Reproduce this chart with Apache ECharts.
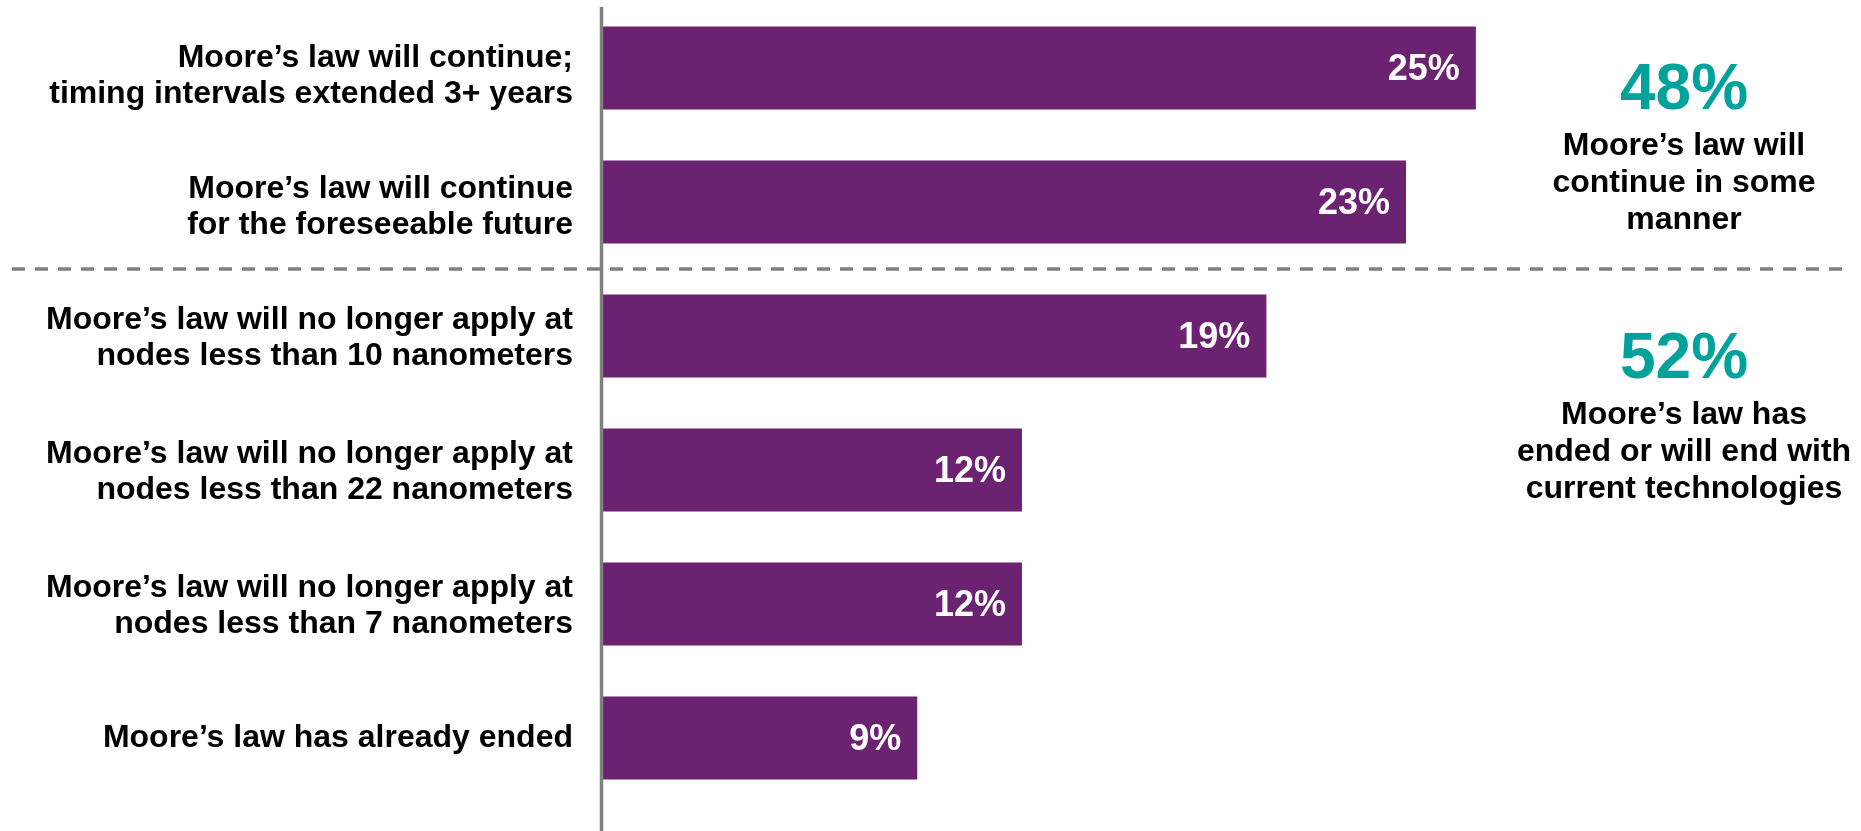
<!DOCTYPE html>
<html>
<head>
<meta charset="utf-8">
<script src="https://cdn.jsdelivr.net/npm/echarts@6/dist/echarts.min.js"></script>
<style>
  html, body { margin: 0; padding: 0; background: #ffffff; }
  #chart { width: 1861px; height: 831px; }
</style>
</head>
<body>
<div id="chart"></div>
<script>
// Survey answers, top to bottom
const categories = [
  "Moore’s law will continue;\ntiming intervals extended 3+ years",
  "Moore’s law will continue\nfor the foreseeable future",
  "Moore’s law will no longer apply at\nnodes less than 10 nanometers",
  "Moore’s law will no longer apply at\nnodes less than 22 nanometers",
  "Moore’s law will no longer apply at\nnodes less than 7 nanometers",
  "Moore’s law has already ended"
];
// Share of respondents, in percent
const shares = [25, 23, 19, 12, 12, 9];
// How many answers fall in each group (continues / ends)
const groupSizes = [2, 4];
const groupCaptions = [
  "Moore’s law will\ncontinue in some\nmanner",
  "Moore’s law has\nended or will end with\ncurrent technologies"
];

const FONT = '"Liberation Sans", Arial, Helvetica, sans-serif';
const PURPLE = '#6A2271';
const TEAL = '#00A39B';
const GREY = '#808080';

// Downward nudge (px) of each answer text relative to its bar centre
const labelNudge = [8, 5, 2, 2, 2, 0];

// Group totals come straight from the answer shares
const groupTotals = [];
let start = 0;
for (const n of groupSizes) {
  groupTotals.push(shares.slice(start, start + n).reduce((a, b) => a + b, 0));
  start += n;
}

// Rich styles: one text style plus an invisible spacer line per nudge size
const rich = {
  t: {
    color: '#000000', fontFamily: FONT, fontWeight: 'bold',
    fontSize: 32, lineHeight: 36, align: 'right'
  }
};
labelNudge.forEach(n => {
  if (n > 0) rich['g' + n] = { fontSize: 1, lineHeight: n * 2, color: 'rgba(0,0,0,0)' };
});

const chart = echarts.init(document.getElementById('chart'), null, { renderer: 'canvas' });

chart.setOption({
  animation: false,
  backgroundColor: '#ffffff',
  grid: { left: 603, right: 36, top: 1, bottom: 26, containLabel: false },
  xAxis: {
    type: 'value', min: 0, max: 35, show: false
  },
  yAxis: {
    type: 'category',
    data: categories,
    inverse: true,
    axisLine: { show: false },
    axisTick: { show: false },
    splitLine: { show: false },
    axisLabel: {
      margin: 30,
      align: 'right',
      formatter: (value, index) => {
        const n = labelNudge[index];
        const body = value.split('\n').map(l => '{t|' + l + '}').join('\n');
        return (n > 0 ? '{g' + n + '| }\n' : '') + body;
      },
      rich: rich
    }
  },
  series: [{
    type: 'bar',
    data: shares,
    barCategoryGap: '38%',
    itemStyle: { color: PURPLE },
    label: {
      show: true,
      position: 'insideRight',
      distance: 16,
      offset: [0, 2],
      formatter: '{c}%',
      color: '#ffffff',
      fontFamily: FONT,
      fontWeight: 'bold',
      fontSize: 36
    }
  }]
});

// Baseline axis, group divider and group summaries
const x0 = chart.convertToPixel({ xAxisIndex: 0 }, 0);
const yA = chart.convertToPixel({ yAxisIndex: 0 }, categories[groupSizes[0] - 1]);
const yB = chart.convertToPixel({ yAxisIndex: 0 }, categories[groupSizes[0]]);
const dividerY = (yA + yB) / 2;

function summary(total, caption, topY, captionY) {
  return [
    {
      type: 'text', z: 10,
      style: {
        text: total + '%', x: 1684, y: topY,
        align: 'center', verticalAlign: 'middle',
        fill: TEAL, font: 'bold 64px ' + FONT
      }
    },
    {
      type: 'text', z: 10,
      style: {
        text: caption, x: 1684, y: captionY,
        align: 'center', verticalAlign: 'middle',
        fill: '#000000', font: 'bold 32px ' + FONT, lineHeight: 37
      }
    }
  ];
}

chart.setOption({
  graphic: [
    {
      type: 'line', z: 5,
      shape: { x1: x0 - 1.5, y1: 7, x2: x0 - 1.5, y2: 831 },
      style: { stroke: GREY, lineWidth: 3.5 }
    },
    {
      type: 'line', z: 5,
      shape: { x1: 12, y1: dividerY, x2: 1842, y2: dividerY },
      style: { stroke: GREY, lineWidth: 3.5, lineDash: [13, 10] }
    },
    ...summary(groupTotals[0], groupCaptions[0], 91, 183),
    ...summary(groupTotals[1], groupCaptions[1], 360, 452)
  ]
});
</script>
</body>
</html>
